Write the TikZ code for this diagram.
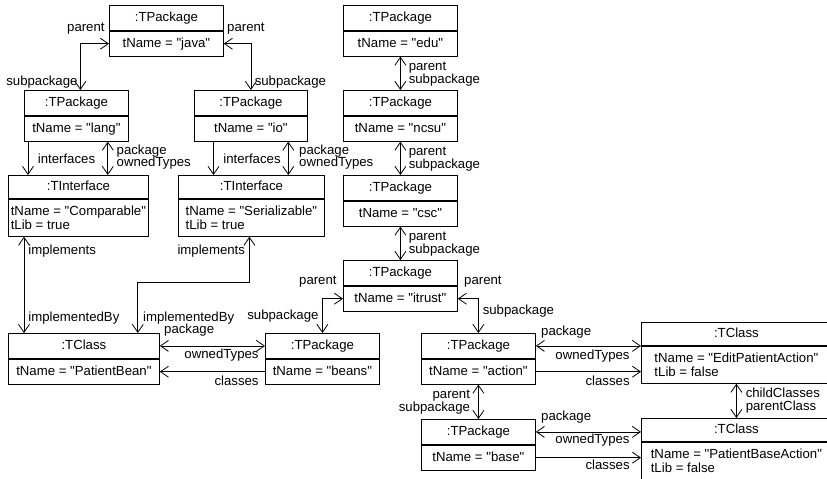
\documentclass[tikz,border=0pt]{standalone}
\usepackage{fontspec}
\setmainfont{Liberation Sans}[Ligatures=TeXOff]
\usetikzlibrary{positioning,arrows.meta,calc}

\begin{document}
\begin{tikzpicture}[
        x=1pt, y=-1pt,
        node distance=85pt,
        >={Straight Barb[length=8pt,width=11pt]},
        line width=0.8pt,
        every node/.style={font=\fontsize{13.2}{14}\selectfont},
        cell/.style={draw, rectangle, minimum width=#1, minimum height=25pt, inner sep=0pt, text height=9.5pt, text depth=2.7pt},
        attrs/.style={draw, rectangle, minimum width=#1, align=left, inner xsep=0pt, inner ysep=6.7pt},
        role/.style={inner sep=1.5pt, text height=9.5pt, text depth=2.7pt}
    ]
        \useasboundingbox (0,0) rectangle (827,479);
        \clip (0,0) rectangle (827,479);

        % java and its subpackages
        \node (java) [cell=114, anchor=north west] at (109,5) {:TPackage};
        \node (java_attr) [cell=114, below=0pt of java] {tName = "java"};
        \node (lang) [cell=104, anchor=north west] at (24,90) {:TPackage};
        \node (lang_attr) [cell=104, below=0pt of lang] {tName = "lang"};
        \node (io) [cell=113, anchor=north west] at (194,90) {:TPackage};
        \node (io_attr) [cell=113, below=0pt of io] {tName = "io"};

        % interfaces
        \node (cmp) [cell=140, minimum height=23pt, anchor=north west] at (8,175) {:TInterface};
        \node (cmp_attr) [attrs=140, below=0pt of cmp] {tName = "Comparable"\\tLib = true};
        \node (ser) [cell=146, minimum height=23pt, anchor=north west] at (178,175) {:TInterface};
        \node (ser_attr) [attrs=146, below=0pt of ser] {tName = "Serializable"\\tLib = true};

        % edu column
        \node (edu) [cell=114, anchor=north west] at (343,5) {:TPackage};
        \node (edu_attr) [cell=114, below=0pt of edu] {tName = "edu"};
        \node (ncsu) [cell=114, below of=edu] {:TPackage};
        \node (ncsu_attr) [cell=114, below=0pt of ncsu] {tName = "ncsu"};
        \node (csc) [cell=114, below of=ncsu] {:TPackage};
        \node (csc_attr) [cell=114, below=0pt of csc] {tName = "csc"};
        \node (itrust) [cell=114, below of=csc] {:TPackage};
        \node (itrust_attr) [cell=114, below=0pt of itrust] {tName = "itrust"};

        % bottom row
        \node (bean) [cell=151, anchor=north west] at (8,333) {:TClass};
        \node (bean_attr) [cell=151, below=0pt of bean] {tName = "PatientBean"};
        \node (beans) [cell=114, anchor=north west] at (265,333) {:TPackage};
        \node (beans_attr) [cell=114, below=0pt of beans] {tName = "beans"};
        \node (action) [cell=114, anchor=north west] at (421,333) {:TPackage};
        \node (action_attr) [cell=114, below=0pt of action] {tName = "action"};
        \node (base) [cell=114, anchor=north west] at (421,419) {:TPackage};
        \node (base_attr) [cell=114, below=0pt of base] {tName = "base"};

        % action classes
        \node (edit) [cell=190, minimum height=23pt, anchor=north west] at (641,322) {:TClass};
        \node (edit_attr) [attrs=190, below=0pt of edit] {tName = "EditPatientAction"\\tLib = false};
        \node (baseact) [cell=190, minimum height=23pt, anchor=north west] at (641,418) {:TClass};
        \node (baseact_attr) [attrs=190, below=0pt of baseact] {tName = "PatientBaseAction"\\tLib = false};

        % java links
        \draw[<->] (java_attr.west) -| ($(lang.north)+(4,0)$)
            node[role, pos=0, anchor=east, xshift=-2.5pt, yshift=15.5pt] {parent}
            node[role, pos=1, anchor=east, xshift=-1pt, yshift=8pt] {subpackage};
        \draw[<->] (java_attr.east) -| (io.north)
            node[role, pos=0, anchor=west, xshift=1.5pt, yshift=15.5pt] {parent}
            node[role, pos=1, anchor=west, xshift=2pt, yshift=8pt] {subpackage};

        % lang and io to interfaces
        \draw[->] ($(lang_attr.south west)+(4,0)$) -- ($(cmp.north -| lang_attr.south west)+(4,0)$)
            node[role, pos=1, anchor=west, xshift=8pt, yshift=15pt] {interfaces};
        \draw[<->] ($(lang_attr.south east)+(-21,0)$) -- ($(cmp.north -| lang_attr.south east)+(-21,0)$)
            node[role, pos=0, anchor=west, xshift=7pt, yshift=-9pt] {package}
            node[role, pos=1, anchor=west, xshift=7pt, yshift=12pt] {ownedTypes};
        \draw[->] ($(io_attr.south west)+(19.5,0)$) -- ($(ser.north -| io_attr.south west)+(19.5,0)$)
            node[role, pos=1, anchor=west, xshift=8pt, yshift=15pt] {interfaces};
        \draw[<->] ($(io_attr.south east)+(-19.5,0)$) -- ($(ser.north -| io_attr.south east)+(-19.5,0)$)
            node[role, pos=0, anchor=west, xshift=9pt, yshift=-9pt] {package}
            node[role, pos=1, anchor=west, xshift=9pt, yshift=12pt] {ownedTypes};

        % implements
        \draw[<->] ($(cmp_attr.south west)+(16,0)$) -- ($(bean.north -| cmp_attr.south west)+(16,0)$)
            node[role, pos=0, anchor=west, xshift=2.5pt, yshift=-14pt] {implements}
            node[role, pos=1, anchor=west, xshift=2.5pt, yshift=15pt] {implementedBy};
        \draw[<->] ($(ser_attr.south)+(-2,0)$)
            -- node[role, pos=0, anchor=east, xshift=-2.5pt, yshift=-14pt] {implements} ++(0,46)
            -| node[role, pos=1, anchor=west, xshift=3.5pt, yshift=15pt] {implementedBy} ($(bean.north east)+(-22,0)$);

        % beans
        \draw[<->] (bean.east) -- (beans.west)
            node[role, pos=0, anchor=west, xshift=2.5pt, yshift=15.5pt] {package}
            node[role, pos=1, anchor=east, xshift=-4.5pt, yshift=-9.5pt] {ownedTypes};
        \draw[->] (beans_attr.west) -- (bean_attr.east)
            node[role, pos=0, anchor=east, xshift=-4.5pt, yshift=-10.5pt] {classes};
        \draw[<->] (itrust_attr.west) -| (beans.north)
            node[role, pos=0, anchor=east, xshift=-4.5pt, yshift=18pt] {parent}
            node[role, pos=1, anchor=east, xshift=-2pt, yshift=17pt] {subpackage};

        % edu column links
        \draw[<->] (edu_attr.south) -- (ncsu.north)
            node[role, pos=0, anchor=west, xshift=6.5pt, yshift=-10pt] {parent}
            node[role, pos=1, anchor=west, xshift=6.5pt, yshift=10pt] {subpackage};
        \draw[<->] (ncsu_attr.south) -- (csc.north)
            node[role, pos=0, anchor=west, xshift=6.5pt, yshift=-10pt] {parent}
            node[role, pos=1, anchor=west, xshift=6.5pt, yshift=10pt] {subpackage};
        \draw[<->] (csc_attr.south) -- (itrust.north)
            node[role, pos=0, anchor=west, xshift=6.5pt, yshift=-10pt] {parent}
            node[role, pos=1, anchor=west, xshift=6.5pt, yshift=10pt] {subpackage};

        % action
        \draw[<->] (itrust_attr.east) -| (action.north)
            node[role, pos=0, anchor=west, xshift=4.5pt, yshift=17.5pt] {parent}
            node[role, pos=1, anchor=west, xshift=2.5pt, yshift=22pt] {subpackage};
        \draw[<->] (action.east) -- (action.east -| edit.west)
            node[role, pos=0, anchor=west, xshift=3.5pt, yshift=13.5pt] {package}
            node[role, pos=1, anchor=east, xshift=-9.5pt, yshift=-10.5pt] {ownedTypes};
        \draw[->] (action_attr.east) -- (action_attr.east -| edit.west)
            node[role, pos=1, anchor=east, xshift=-9.5pt, yshift=-10.5pt] {classes};
        \draw[<->] (edit_attr.south) -- (baseact.north)
            node[role, pos=0, anchor=west, xshift=7.5pt, yshift=-10pt] {childClasses}
            node[role, pos=1, anchor=west, xshift=7.5pt, yshift=11pt] {parentClass};

        % base
        \draw[<->] (action_attr.south) -- (base.north)
            node[role, pos=0, anchor=east, xshift=-6.5pt, yshift=-10pt] {parent}
            node[role, pos=1, anchor=east, xshift=-6.5pt, yshift=10.5pt] {subpackage};
        \draw[<->] (base.east) -- (base.east -| baseact.west)
            node[role, pos=0, anchor=west, xshift=3.5pt, yshift=14.5pt] {package}
            node[role, pos=1, anchor=east, xshift=-9.5pt, yshift=-8.5pt] {ownedTypes};
        \draw[->] (base_attr.east) -- (base_attr.east -| baseact.west)
            node[role, pos=1, anchor=east, xshift=-9.5pt, yshift=-8.5pt] {classes};
    \end{tikzpicture}
\end{document}
